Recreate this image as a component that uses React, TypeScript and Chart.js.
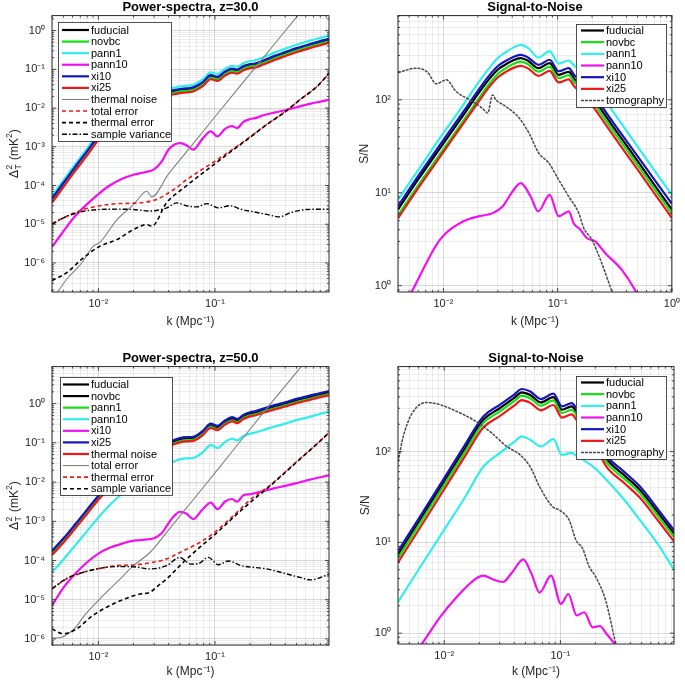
import React, { useEffect, useRef } from 'react';
import { Chart, registerables } from 'chart.js';
Chart.register(...registerables);

const FONT = "'Liberation Sans', Arial, Helvetica, sans-serif";

// ---------------- Top-left: Power-spectra z=30 ----------------
const TL_K = [0.004, 0.005, 0.0063, 0.008, 0.01, 0.0125, 0.016, 0.02, 0.025, 0.03, 0.035, 0.04, 0.045, 0.05, 0.057, 0.065, 0.078, 0.092, 0.105, 0.122, 0.14, 0.155, 0.175, 0.2, 0.22, 0.26, 0.32, 0.4, 0.5, 0.65, 0.8, 0.95];
const TL_FUDUCIAL = [4.3e-5, 1.08e-4, 2.8e-4, 7.2e-4, 1.8e-3, 4.0e-3, 8.5e-3, 0.0145, 0.020, 0.0235, 0.025, 0.026, 0.027, 0.029, 0.030, 0.032, 0.043, 0.066, 0.060, 0.082, 0.097, 0.092, 0.113, 0.128, 0.132, 0.158, 0.205, 0.26, 0.33, 0.42, 0.50, 0.57];
const TL_NOVBC = [4.0e-5, 1.0e-4, 2.6e-4, 6.7e-4, 1.67e-3, 3.72e-3, 7.9e-3, 0.0135, 0.0186, 0.0219, 0.0233, 0.0242, 0.0251, 0.027, 0.0279, 0.0298, 0.040, 0.0614, 0.0558, 0.0763, 0.090, 0.0856, 0.105, 0.119, 0.123, 0.147, 0.191, 0.242, 0.307, 0.391, 0.465, 0.53];
const TL_PANN1 = [5.4e-5, 1.35e-4, 3.5e-4, 9.0e-4, 2.25e-3, 5.0e-3, 0.0106, 0.0181, 0.025, 0.0294, 0.0313, 0.0325, 0.0338, 0.0363, 0.0375, 0.040, 0.054, 0.083, 0.076, 0.104, 0.123, 0.117, 0.144, 0.164, 0.170, 0.204, 0.266, 0.34, 0.43, 0.55, 0.65, 0.74];
const TL_PANN10 = [2.6e-6, 6.5e-6, 1.6e-5, 3.3e-5, 6.0e-5, 1.0e-4, 1.5e-4, 1.9e-4, 2.2e-4, 2.6e-4, 4.2e-4, 8.5e-4, 1.15e-3, 1.25e-3, 1.1e-3, 8.4e-4, 1.6e-3, 2.5e-3, 1.85e-3, 2.9e-3, 3.4e-3, 3.05e-3, 4.4e-3, 5.2e-3, 5.5e-3, 6.5e-3, 7.6e-3, 8.8e-3, 0.0105, 0.0128, 0.0147, 0.0164];
const TL_XI10 = [4.6e-5, 1.16e-4, 3.0e-4, 7.7e-4, 1.93e-3, 4.3e-3, 9.1e-3, 0.0155, 0.0214, 0.0251, 0.0268, 0.0278, 0.0289, 0.031, 0.0321, 0.0342, 0.046, 0.0706, 0.0642, 0.0877, 0.104, 0.0984, 0.121, 0.137, 0.141, 0.169, 0.219, 0.278, 0.353, 0.449, 0.535, 0.61];
const TL_XI25 = [3.6e-5, 9.1e-5, 2.35e-4, 6.0e-4, 1.51e-3, 3.36e-3, 7.1e-3, 0.0122, 0.0168, 0.0197, 0.021, 0.0218, 0.0227, 0.0244, 0.0252, 0.0269, 0.0361, 0.0554, 0.0504, 0.0689, 0.0815, 0.0773, 0.0949, 0.1075, 0.111, 0.133, 0.172, 0.218, 0.277, 0.353, 0.42, 0.48];
const TL_TN_K = [0.004, 0.00535, 0.0072, 0.009, 0.0103, 0.0144, 0.02, 0.026, 0.0287, 0.04, 0.065, 0.1, 0.2, 0.3, 0.5, 0.6];
const TL_TN = [1.1e-7, 3.8e-7, 1.0e-6, 2.7e-6, 3.4e-6, 1.3e-5, 3.2e-5, 7.1e-5, 5.1e-5, 2.0e-4, 1.2e-3, 5.96e-3, 0.0763, 0.34, 2.23, 4.4];
const TL_TOT_K = [0.004, 0.00535, 0.00743, 0.0103, 0.0144, 0.02, 0.0277, 0.0337, 0.0443, 0.0572, 0.0743, 0.103, 0.1436, 0.2, 0.277, 0.4, 0.535, 0.75, 0.955];
const TL_TOT = [1.05e-5, 1.6e-5, 2.4e-5, 3.0e-5, 3.4e-5, 3.5e-5, 3.9e-5, 4.8e-5, 7.9e-5, 1.42e-4, 2.4e-4, 4.5e-4, 8.8e-4, 1.8e-3, 3.75e-3, 8.1e-3, 0.0165, 0.036, 0.08];
const TL_THE_K = [0.004, 0.00535, 0.00743, 0.0103, 0.0144, 0.02, 0.026, 0.0287, 0.0385, 0.0535, 0.0743, 0.103, 0.1436, 0.2, 0.277, 0.4, 0.535, 0.75, 0.955];
const TL_THE = [3.5e-7, 5.6e-7, 1.36e-6, 2.7e-6, 4.0e-6, 7.3e-6, 9.8e-6, 8.9e-6, 3.6e-5, 8.5e-5, 1.85e-4, 3.9e-4, 8.4e-4, 1.75e-3, 3.7e-3, 8.0e-3, 0.0164, 0.036, 0.08];
const TL_SV_K = [0.004, 0.00535, 0.00743, 0.0103, 0.0144, 0.02, 0.0277, 0.0385, 0.0469, 0.057, 0.0697, 0.0849, 0.107, 0.134, 0.17, 0.214, 0.277, 0.36, 0.44, 0.61, 0.955];
const TL_SV = [1.0e-5, 1.6e-5, 2.16e-5, 2.4e-5, 2.45e-5, 2.4e-5, 2.2e-5, 2.65e-5, 3.56e-5, 3.0e-5, 2.8e-5, 3.4e-5, 2.65e-5, 3.0e-5, 2.4e-5, 2.1e-5, 1.8e-5, 1.55e-5, 1.97e-5, 2.4e-5, 2.45e-5];

// ---------------- Top-right: S/N z=30 ----------------
const TR_K = [0.004, 0.006, 0.01, 0.015, 0.02, 0.025, 0.03, 0.035, 0.04, 0.0475, 0.055, 0.068, 0.085, 0.102, 0.125, 0.14, 0.16, 0.2, 0.3, 0.5, 0.7, 1.0];
const TR_FUDUCIAL = [6.6, 13.9, 34, 69, 115, 166, 212, 240, 263, 281, 263, 219, 248, 186, 200, 168, 145, 107, 53, 22, 12.2, 6.6];
const TR_NOVBC = [5.7, 12.0, 29.5, 60, 100, 147, 191, 218, 240, 258, 242, 201, 228, 171, 184, 155, 133, 97, 48, 20, 11.1, 6.0];
const TR_PANN1 = [8.4, 17.5, 44, 89, 150, 218, 282, 325, 360, 390, 362, 285, 335, 245, 265, 232, 205, 153, 77, 31.5, 17.5, 9.5];
const TR_XI10 = [7.2, 15.1, 37, 75, 125, 181, 231, 262, 286, 305, 286, 238, 270, 203, 219, 184, 160, 118, 59, 24.8, 13.9, 7.6];
const TR_XI25 = [5.3, 11.2, 27.5, 56, 93, 136, 175, 199, 218, 232, 218, 181, 205, 154, 166, 139, 120, 87, 43, 17.8, 9.9, 5.35];
const TR_PANN10_K = [0.0045, 0.00526, 0.00933, 0.0148, 0.0206, 0.0269, 0.0329, 0.0402, 0.0475, 0.058, 0.0675, 0.085, 0.102, 0.125, 0.138, 0.158, 0.18, 0.213, 0.26, 0.363, 0.474, 0.55];
const TR_PANN10 = [0.6, 0.855, 3.13, 4.9, 5.6, 6.0, 7.1, 10.3, 12.7, 9.1, 6.3, 9.5, 5.6, 6.3, 4.7, 4.0, 3.26, 3.0, 2.25, 1.49, 0.905, 0.62];
const TR_TOMO_K = [0.004, 0.0058, 0.0072, 0.00867, 0.0106, 0.0129, 0.0169, 0.022, 0.0244, 0.0269, 0.0288, 0.0351, 0.0459, 0.056, 0.0684, 0.0836, 0.102, 0.125, 0.153, 0.169, 0.199, 0.243, 0.3, 0.32];
const TR_TOMO = [197, 219, 200, 149, 164, 123, 100, 81, 72, 113, 100, 85, 64, 44, 26.7, 20.9, 13.8, 9.1, 6.05, 4.17, 3.13, 1.75, 0.855, 0.7];

// ---------------- Bottom-left: Power-spectra z=50 ----------------
const BL_K = [0.004, 0.005, 0.0063, 0.008, 0.01, 0.0125, 0.016, 0.02, 0.025, 0.03, 0.035, 0.04, 0.045, 0.05, 0.057, 0.065, 0.078, 0.092, 0.105, 0.122, 0.14, 0.155, 0.175, 0.2, 0.22, 0.26, 0.32, 0.4, 0.5, 0.65, 0.8, 0.95];
const BL_FUDUCIAL = [1.6e-4, 3.3e-4, 7.5e-4, 1.8e-3, 4.1e-3, 8.5e-3, 0.0165, 0.028, 0.045, 0.062, 0.078, 0.093, 0.108, 0.12, 0.127, 0.13, 0.18, 0.28, 0.245, 0.34, 0.41, 0.37, 0.47, 0.55, 0.58, 0.68, 0.82, 0.98, 1.2, 1.45, 1.7, 1.9];
const BL_NOVBC = [1.55e-4, 3.2e-4, 7.3e-4, 1.75e-3, 4.0e-3, 8.2e-3, 0.016, 0.027, 0.0437, 0.060, 0.0757, 0.090, 0.105, 0.1165, 0.123, 0.126, 0.175, 0.272, 0.238, 0.33, 0.398, 0.359, 0.456, 0.534, 0.563, 0.66, 0.795, 0.95, 1.165, 1.41, 1.65, 1.84];
const BL_PANN1 = [1.47e-4, 3.04e-4, 6.9e-4, 1.66e-3, 3.77e-3, 7.8e-3, 0.0152, 0.0258, 0.0414, 0.057, 0.0718, 0.0856, 0.0994, 0.110, 0.117, 0.12, 0.166, 0.258, 0.225, 0.313, 0.377, 0.34, 0.432, 0.506, 0.534, 0.626, 0.754, 0.90, 1.1, 1.33, 1.56, 1.75];
const BL_PANN10 = [5.0e-5, 1.05e-4, 2.4e-4, 5.6e-4, 1.25e-3, 2.6e-3, 5.1e-3, 8.8e-3, 0.0142, 0.0195, 0.0245, 0.029, 0.034, 0.038, 0.040, 0.041, 0.056, 0.088, 0.074, 0.105, 0.128, 0.115, 0.148, 0.172, 0.182, 0.213, 0.258, 0.31, 0.38, 0.46, 0.55, 0.62];
const BL_XI10 = [7.1e-6, 2.0e-5, 4.5e-5, 9.0e-5, 1.5e-4, 2.1e-4, 2.7e-4, 3.2e-4, 3.4e-4, 3.7e-4, 5.0e-4, 9.0e-4, 1.4e-3, 1.75e-3, 1.55e-3, 1.14e-3, 2.0e-3, 3.0e-3, 2.05e-3, 3.2e-3, 3.7e-3, 3.15e-3, 4.6e-3, 4.9e-3, 5.2e-3, 5.9e-3, 6.9e-3, 8.0e-3, 9.4e-3, 0.0115, 0.0133, 0.015];
const BL_XI25 = [1.76e-4, 3.63e-4, 8.25e-4, 1.98e-3, 4.5e-3, 9.35e-3, 0.0182, 0.0308, 0.0495, 0.068, 0.086, 0.102, 0.119, 0.132, 0.14, 0.143, 0.198, 0.308, 0.27, 0.374, 0.451, 0.407, 0.517, 0.605, 0.638, 0.748, 0.90, 1.08, 1.32, 1.6, 1.87, 2.09];
const BL_THNOISE = [1.38e-4, 2.84e-4, 6.45e-4, 1.55e-3, 3.53e-3, 7.3e-3, 0.0142, 0.0241, 0.0387, 0.0533, 0.067, 0.08, 0.093, 0.103, 0.109, 0.112, 0.155, 0.241, 0.211, 0.292, 0.353, 0.318, 0.404, 0.473, 0.499, 0.585, 0.705, 0.843, 1.03, 1.25, 1.46, 1.63];
const BL_TOT_K = [0.004, 0.0048, 0.0055, 0.0065, 0.0074, 0.0103, 0.0144, 0.02, 0.0277, 0.0385, 0.1, 0.3, 0.553, 0.65];
const BL_TOT = [1.05e-6, 1.1e-6, 1.35e-6, 2.1e-6, 3.6e-6, 1.05e-5, 2.8e-5, 7.4e-5, 1.6e-4, 5.2e-4, 0.0172, 1.0, 9.0, 16];
const BL_THE_K = [0.004, 0.00535, 0.00743, 0.0103, 0.0144, 0.02, 0.0277, 0.0385, 0.05, 0.0743, 0.103, 0.1436, 0.2, 0.3, 0.5, 0.7, 0.955];
const BL_THE = [1.9e-5, 3.4e-5, 5.0e-5, 6.3e-5, 7.4e-5, 7.7e-5, 8.7e-5, 1.1e-4, 1.6e-4, 2.9e-4, 5.7e-4, 1.38e-3, 3.5e-3, 8.5e-3, 0.033, 0.079, 0.185];
const BL_SV_K = [0.004, 0.005, 0.0065, 0.009, 0.0144, 0.0228, 0.0277, 0.032, 0.0385, 0.0535, 0.0743, 0.103, 0.1436, 0.2, 0.3, 0.5, 0.7, 0.955];
const BL_SV = [1.8e-6, 1.35e-6, 1.8e-6, 4.0e-6, 8.6e-6, 1.4e-5, 1.55e-5, 2.2e-5, 3.4e-5, 9.0e-5, 2.2e-4, 5.0e-4, 1.25e-3, 3.0e-3, 8.2e-3, 0.032, 0.078, 0.183];
const BL_EXTRA_K = [0.004, 0.00535, 0.00743, 0.0103, 0.0144, 0.02, 0.0277, 0.0385, 0.05, 0.0617, 0.072, 0.0877, 0.107, 0.13, 0.168, 0.277, 0.535, 0.66, 0.955];
const BL_EXTRA = [1.9e-5, 3.5e-5, 5.0e-5, 6.3e-5, 7.0e-5, 6.9e-5, 6.1e-5, 7.4e-5, 1.2e-4, 8.1e-5, 8.3e-5, 1.2e-4, 7.8e-5, 9.7e-5, 7.4e-5, 6.1e-5, 3.7e-5, 3.2e-5, 4.5e-5];

// ---------------- Bottom-right: S/N z=50 ----------------
const BR_K = [0.004, 0.006, 0.01, 0.015, 0.0217, 0.03, 0.04, 0.0465, 0.055, 0.068, 0.087, 0.103, 0.125, 0.14, 0.16, 0.2, 0.25, 0.35, 0.484, 0.7, 0.95];
const BR_FUDUCIAL = [7.3, 16.6, 47, 107, 224, 300, 390, 449, 420, 348, 398, 289, 314, 265, 215, 140, 83, 55.6, 37.8, 20.8, 12.5];
const BR_NOVBC = [6.7, 15.3, 43, 98, 206, 276, 359, 413, 386, 320, 366, 266, 289, 244, 198, 129, 76, 51, 34.8, 19.1, 11.5];
const BR_PANN1 = [2.2, 5.0, 13.8, 31, 68, 96, 128, 147, 135, 114, 137, 92, 97, 88, 80, 65, 48.6, 30, 17.6, 9.3, 5.0];
const BR_XI10 = [8.0, 18.1, 51, 117, 244, 327, 425, 489, 458, 379, 434, 315, 342, 289, 234, 153, 90, 60.6, 41.2, 22.7, 13.6];
const BR_XI25 = [6.0, 13.6, 38.5, 88, 184, 246, 320, 368, 344, 285, 326, 237, 257, 217, 176, 115, 68, 45.6, 31, 17.1, 10.25];
const BR_PANN10_K = [0.0058, 0.0064, 0.0092, 0.0128, 0.0178, 0.0217, 0.0264, 0.0319, 0.0385, 0.0479, 0.0564, 0.0662, 0.083, 0.101, 0.117, 0.138, 0.16, 0.19, 0.218, 0.25, 0.285, 0.31];
const BR_PANN10 = [0.65, 0.76, 1.5, 2.5, 3.8, 4.3, 3.9, 3.66, 4.7, 6.5, 4.5, 2.8, 4.3, 2.1, 2.7, 1.57, 1.7, 1.16, 1.2, 0.98, 0.8, 0.7];
const BR_TOMO_K = [0.004, 0.00444, 0.0053, 0.00706, 0.0092, 0.0128, 0.0178, 0.0248, 0.0345, 0.045, 0.055, 0.0662, 0.0858, 0.098, 0.119, 0.136, 0.155, 0.177, 0.201, 0.245, 0.3];
const BR_TOMO = [77, 147, 265, 348, 328, 277, 224, 166, 114, 92, 68, 41, 24.7, 22.7, 17.6, 10.6, 8.6, 5.4, 4.2, 2.3, 0.75];

// ---------------- styles ----------------
const C_BLACK = '#000000';
const C_GREEN = '#10e010';
const C_CYAN = '#30eeee';
const C_MAG = '#f010f0';
const C_BLUE = '#1414c0';
const C_RED = '#ee1818';
const C_GRAY = '#808080';
const C_TOMO = '#4a4a4a';
const DASH = [4, 3];
const DASHDOT = [5, 2, 1.5, 2];
const DOT = [3, 1];

const SUP: Record<string, string> = { '-': '\u207B', '0': '\u2070', '1': '\u00B9', '2': '\u00B2', '3': '\u00B3', '4': '\u2074', '5': '\u2075', '6': '\u2076', '7': '\u2077', '8': '\u2078', '9': '\u2079' };
const isDecade = (v: number) => { const l = Math.log10(v); return Math.abs(l - Math.round(l)) < 1e-6; };
const decadeLabel = (v: number) => '10' + String(Math.round(Math.log10(v))).split('').map((c) => SUP[c]).join('');
function logTicks(min: number, max: number) {
  const out: any[] = [];
  for (let e = Math.floor(Math.log10(min)) - 1; e <= Math.ceil(Math.log10(max)); e++) {
    for (let m = 1; m < 10; m++) {
      const v = m * Math.pow(10, e);
      if (v >= min * (1 - 1e-9) && v <= max * (1 + 1e-9)) out.push({ value: v });
    }
  }
  return out;
}

type Series = { label: string; k: number[]; v: number[]; color: string; width: number; dash?: number[]; legend?: boolean };
type PanelCfg = {
  title: string; left: number; top: number; width: number; height: number;
  area: { l: number; r: number; b: number };
  xMin: number; xMax: number; yMin: number; yMax: number;
  yKind: 'delta' | 'sn'; yTitleX: number; xTitleY: number;
  legend: { l: number; t: number; r: number; b: number; x0: number; x1: number; tx: number; y0: number; dy: number };
  series: Series[];
};

const s = (label: string, k: number[], v: number[], color: string, width: number, dash?: number[], legend = true): Series => ({ label, k, v, color, width, dash, legend });

const PANELS: PanelCfg[] = [
  {
    title: 'Power-spectra, z=30.0', left: 0, top: 0, width: 342, height: 340,
    area: { l: 52, r: 329, b: 292 }, xMin: 0.004, xMax: 0.95, yMin: 1.78e-7, yMax: 2.44,
    yKind: 'delta', yTitleX: 13.5, xTitleY: 322,
    legend: { l: 58, t: 22, r: 171, b: 141, x0: 62, x1: 89, tx: 91, y0: 30, dy: 11.58 },
    series: [
      s('fuducial', TL_K, TL_FUDUCIAL, C_BLACK, 2.2),
      s('novbc', TL_K, TL_NOVBC, C_GREEN, 2.2),
      s('pann1', TL_K, TL_PANN1, C_CYAN, 2.2),
      s('pann10', TL_K, TL_PANN10, C_MAG, 2.2),
      s('xi10', TL_K, TL_XI10, C_BLUE, 2.2),
      s('xi25', TL_K, TL_XI25, C_RED, 2.2),
      s('thermal noise', TL_TN_K, TL_TN, C_GRAY, 1.1),
      s('total error', TL_TOT_K, TL_TOT, C_RED, 1.6, DASH),
      s('thermal error', TL_THE_K, TL_THE, C_BLACK, 1.6, DASH),
      s('sample variance', TL_SV_K, TL_SV, C_BLACK, 1.4, DASHDOT),
    ],
  },
  {
    title: 'Signal-to-Noise', left: 342, top: 0, width: 343, height: 340,
    area: { l: 398, r: 674, b: 292 }, xMin: 0.004, xMax: 1, yMin: 0.855, yMax: 806,
    yKind: 'sn', yTitleX: 365, xTitleY: 322,
    legend: { l: 576, t: 24, r: 666, b: 107, x0: 581, x1: 604, tx: 606, y0: 30.5, dy: 11.67 },
    series: [
      s('fuducial', TR_K, TR_FUDUCIAL, C_BLACK, 2.2),
      s('novbc', TR_K, TR_NOVBC, C_GREEN, 2.2),
      s('pann1', TR_K, TR_PANN1, C_CYAN, 2.2),
      s('pann10', TR_PANN10_K, TR_PANN10, C_MAG, 2.2),
      s('xi10', TR_K, TR_XI10, C_BLUE, 2.2),
      s('xi25', TR_K, TR_XI25, C_RED, 2.2),
      s('tomography', TR_TOMO_K, TR_TOMO, C_TOMO, 1.5, DOT),
    ],
  },
  {
    title: 'Power-spectra, z=50.0', left: 0, top: 351, width: 342, height: 332,
    area: { l: 52, r: 329, b: 645 }, xMin: 0.004, xMax: 0.95, yMin: 7.0e-7, yMax: 8.8,
    yKind: 'delta', yTitleX: 13.5, xTitleY: 672,
    legend: { l: 60, t: 377, r: 172, b: 495, x0: 63, x1: 89, tx: 91, y0: 384.5, dy: 11.58 },
    series: [
      s('fuducial', BL_K, BL_FUDUCIAL, C_BLACK, 2.2),
      s('novbc', BL_K, BL_NOVBC, C_BLACK, 2.2),
      s('pann1', BL_K, BL_PANN1, C_GREEN, 2.2),
      s('pann10', BL_K, BL_PANN10, C_CYAN, 2.2),
      s('xi10', BL_K, BL_XI10, C_MAG, 2.2),
      s('xi25', BL_K, BL_XI25, C_BLUE, 2.2),
      s('thermal noise', BL_K, BL_THNOISE, C_RED, 2.2),
      s('total error', BL_TOT_K, BL_TOT, C_GRAY, 1.1),
      s('thermal error', BL_THE_K, BL_THE, C_RED, 1.6, DASH),
      s('sample variance', BL_SV_K, BL_SV, C_BLACK, 1.6, DASH),
      s('data11', BL_EXTRA_K, BL_EXTRA, C_BLACK, 1.4, DASHDOT, false),
    ],
  },
  {
    title: 'Signal-to-Noise', left: 342, top: 351, width: 343, height: 332,
    area: { l: 398, r: 674, b: 644 }, xMin: 0.004, xMax: 0.95, yMin: 0.76, yMax: 863,
    yKind: 'sn', yTitleX: 366, xTitleY: 672,
    legend: { l: 576, t: 376, r: 666, b: 459, x0: 581, x1: 604, tx: 606, y0: 382.5, dy: 11.67 },
    series: [
      s('fuducial', BR_K, BR_FUDUCIAL, C_BLACK, 2.2),
      s('novbc', BR_K, BR_NOVBC, C_GREEN, 2.2),
      s('pann1', BR_K, BR_PANN1, C_CYAN, 2.2),
      s('pann10', BR_PANN10_K, BR_PANN10, C_MAG, 2.2),
      s('xi10', BR_K, BR_XI10, C_BLUE, 2.2),
      s('xi25', BR_K, BR_XI25, C_RED, 2.2),
      s('tomography', BR_TOMO_K, BR_TOMO, C_TOMO, 1.5, DOT),
    ],
  },
];

function drawDeltaTitle(ctx: CanvasRenderingContext2D, cx: number, cy: number) {
  const big = `12px ${FONT}`;
  const small = `8.5px ${FONT}`;
  ctx.save();
  ctx.translate(cx, cy);
  ctx.rotate(-Math.PI / 2);
  ctx.fillStyle = '#262626';
  ctx.textBaseline = 'alphabetic';
  ctx.textAlign = 'left';
  ctx.font = big;
  const wD = ctx.measureText('\u0394').width;
  const wRest = ctx.measureText(' (mK').width;
  const wClose = ctx.measureText(')').width;
  ctx.font = small;
  const w2 = ctx.measureText('2').width;
  const wT = ctx.measureText('T').width;
  const wSub = Math.max(w2, wT) + 1;
  const total = wD + wSub + wRest + w2 + wClose;
  let x = -total / 2;
  const base = 4;
  ctx.font = big; ctx.fillText('\u0394', x, base); x += wD + 0.5;
  ctx.font = small; ctx.fillText('2', x, base - 6); ctx.fillText('T', x, base + 3.5); x += wSub;
  ctx.font = big; ctx.fillText(' (mK', x, base); x += wRest;
  ctx.font = small; ctx.fillText('2', x, base - 6); x += w2;
  ctx.font = big; ctx.fillText(')', x, base);
  ctx.restore();
}

function decorPlugin(p: PanelCfg) {
  return {
    id: 'matlabDecor',
    afterDraw(chart: any) {
      const ctx: CanvasRenderingContext2D = chart.ctx;
      const ca = chart.chartArea;
      const xs = chart.scales.x;
      const ys = chart.scales.y;
      ctx.save();
      ctx.strokeStyle = '#262626';
      ctx.lineWidth = 0.8;
      ctx.setLineDash([]);
      ctx.beginPath();
      xs.ticks.forEach((t: any) => {
        const px = xs.getPixelForValue(t.value);
        const L = isDecade(t.value) ? 4 : 2;
        ctx.moveTo(px, ca.bottom); ctx.lineTo(px, ca.bottom - L);
        ctx.moveTo(px, ca.top); ctx.lineTo(px, ca.top + L);
      });
      ys.ticks.forEach((t: any) => {
        const py = ys.getPixelForValue(t.value);
        const L = isDecade(t.value) ? 4 : 2;
        ctx.moveTo(ca.left, py); ctx.lineTo(ca.left + L, py);
        ctx.moveTo(ca.right, py); ctx.lineTo(ca.right - L, py);
      });
      ctx.stroke();
      ctx.lineWidth = 1;
      ctx.strokeRect(ca.left, ca.top, ca.right - ca.left, ca.bottom - ca.top);

      // legend
      const lg = p.legend;
      const ox = p.left, oy = p.top;
      ctx.fillStyle = '#ffffff';
      ctx.fillRect(lg.l - ox, lg.t - oy, lg.r - lg.l, lg.b - lg.t);
      ctx.strokeStyle = '#262626';
      ctx.lineWidth = 0.8;
      ctx.strokeRect(lg.l - ox + 0.5, lg.t - oy + 0.5, lg.r - lg.l, lg.b - lg.t);
      const items = chart.data.datasets.filter((d: any) => d.inLegend);
      ctx.font = `11px ${FONT}`;
      ctx.textBaseline = 'middle';
      ctx.textAlign = 'left';
      items.forEach((d: any, i: number) => {
        const y = lg.y0 + i * lg.dy - oy;
        ctx.strokeStyle = d.borderColor;
        ctx.lineWidth = d.borderWidth;
        ctx.setLineDash(d.borderDash || []);
        ctx.beginPath();
        ctx.moveTo(lg.x0 - ox, y);
        ctx.lineTo(lg.x1 - ox, y);
        ctx.stroke();
        ctx.setLineDash([]);
        ctx.fillStyle = '#000000';
        ctx.fillText(d.label, lg.tx - ox, y + 0.5);
      });
      if (p.yKind === 'delta') {
        drawDeltaTitle(ctx, p.yTitleX - ox, (ca.top + ca.bottom) / 2);
      }
      ctx.restore();
    },
  };
}

function buildConfig(p: PanelCfg): any {
  const canvasBottom = p.top + p.height;
  const tickFont = { family: FONT, size: 11 };
  const gridColor = (c: any) => (c.tick && isDecade(c.tick.value) ? 'rgba(0,0,0,0.15)' : 'rgba(0,0,0,0.065)');
  const n = p.series.length;
  return {
    type: 'line',
    data: {
      datasets: p.series.map((sr, i) => ({
        label: sr.label,
        data: sr.k.map((x, j) => ({ x, y: sr.v[j] })),
        borderColor: sr.color,
        backgroundColor: sr.color,
        borderWidth: sr.width,
        borderDash: sr.dash || [],
        pointRadius: 0,
        pointHoverRadius: 0,
        fill: false,
        cubicInterpolationMode: 'monotone',
        clip: 0,
        order: n - i,
        inLegend: sr.legend !== false,
      })),
    },
    options: {
      animation: false,
      responsive: false,
      events: [],
      layout: { padding: { left: 0, top: 0, bottom: 0, right: p.left + p.width - p.area.r } },
      plugins: {
        legend: { display: false },
        tooltip: { enabled: false },
        title: {
          display: true, text: p.title, fullSize: false, color: '#000000',
          font: { family: FONT, size: 13, weight: 'bold', lineHeight: 1.2 },
          padding: { top: 0, bottom: 0 },
        },
      },
      scales: {
        x: {
          type: 'logarithmic', position: 'bottom', min: p.xMin, max: p.xMax,
          afterBuildTicks: (sc: any) => { sc.ticks = logTicks(sc.min, sc.max); },
          afterFit: (sc: any) => { sc.height = canvasBottom - p.area.b; },
          ticks: {
            autoSkip: false, maxRotation: 0, minRotation: 0, padding: 5, color: '#262626', font: tickFont,
            callback: (v: any) => (isDecade(Number(v)) ? decadeLabel(Number(v)) : ''),
          },
          grid: { color: gridColor, lineWidth: 1, drawTicks: false },
          border: { display: false },
          title: {
            display: true, text: 'k (Mpc\u207B\u00B9)', color: '#262626',
            font: { family: FONT, size: 12, lineHeight: 1.2 },
            padding: { top: 0, bottom: canvasBottom - p.xTitleY - 7.2 },
          },
        },
        y: {
          type: 'logarithmic', position: 'left', min: p.yMin, max: p.yMax,
          afterBuildTicks: (sc: any) => { sc.ticks = logTicks(sc.min, sc.max); },
          afterFit: (sc: any) => { sc.width = p.area.l - p.left; },
          ticks: {
            autoSkip: false, padding: 7, color: '#262626', font: tickFont,
            callback: (v: any) => (isDecade(Number(v)) ? decadeLabel(Number(v)) : ''),
          },
          grid: { color: gridColor, lineWidth: 1, drawTicks: false },
          border: { display: false },
          title: {
            display: p.yKind === 'sn', text: 'S/N', color: '#262626',
            font: { family: FONT, size: 12, lineHeight: 1.2 },
            padding: { top: p.yTitleX - p.left - 7.2, bottom: 0 },
          },
        },
      },
    },
    plugins: [decorPlugin(p)],
  };
}

function Panel({ p }: { p: PanelCfg }) {
  const ref = useRef<HTMLCanvasElement>(null);
  useEffect(() => {
    const chart = new Chart(ref.current as HTMLCanvasElement, buildConfig(p));
    return () => chart.destroy();
  }, []);
  return (
    <canvas
      ref={ref}
      width={p.width}
      height={p.height}
      style={{ position: 'absolute', left: p.left, top: p.top, width: p.width, height: p.height }}
    />
  );
}

export default function App() {
  return (
    <div style={{ position: 'fixed', left: 0, top: 0, width: 685, height: 683, background: '#ffffff', overflow: 'hidden' }}>
      {PANELS.map((p, i) => (
        <Panel key={i} p={p} />
      ))}
    </div>
  );
}
